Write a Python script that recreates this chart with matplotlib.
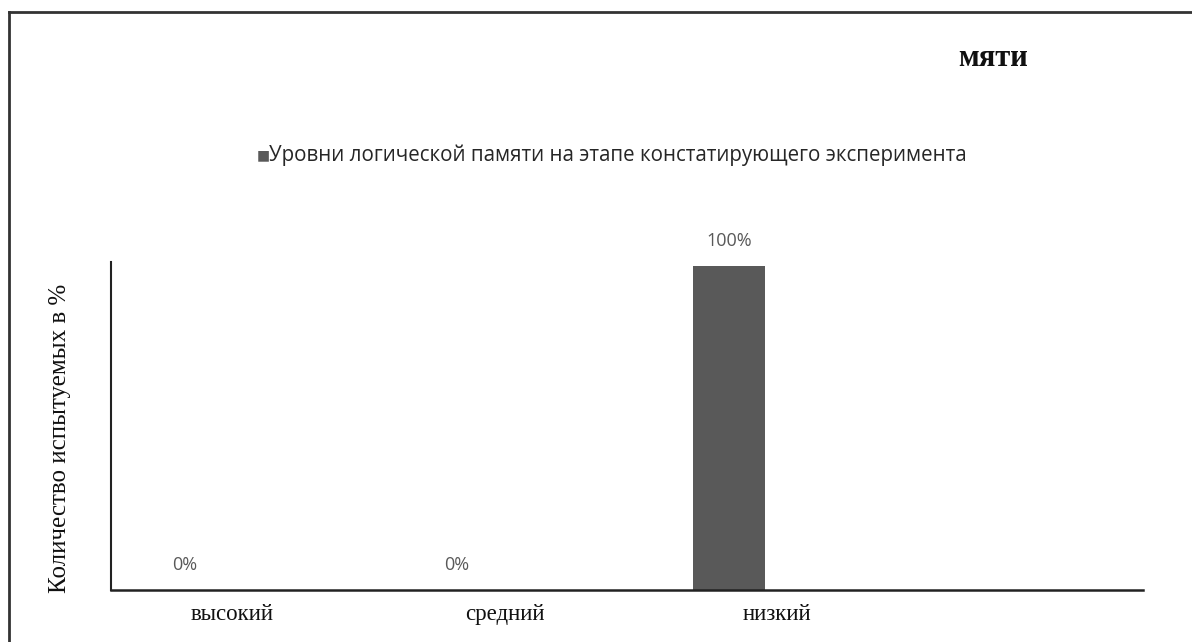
import matplotlib
matplotlib.use("Agg")
import matplotlib.pyplot as plt
import matplotlib.transforms as mtransforms
from matplotlib.lines import Line2D

categories = ["высокий", "средний", "низкий"]
values = [0, 0, 100]
value_labels = ["0%", "0%", "100%"]
legend_label = "Уровни логической памяти на этапе констатирующего эксперимента"
title_text = "мяти"
y_label = "Количество испытуемых в %"

W, H = 1192, 642
fig = plt.figure(figsize=(W / 100, H / 100), dpi=100)
fig.patch.set_facecolor("white")

# outer frame (top and left edges visible)
fig.add_artist(Line2D([9 / W, 1.0], [1 - 12 / H, 1 - 12 / H], color="#333333", lw=2.0, transform=fig.transFigure))
fig.add_artist(Line2D([9 / W, 9 / W], [0, 1 - 12 / H], color="#333333", lw=2.0, transform=fig.transFigure))

left, right, bottom, top = 111, 1143, 590, 262
ax = fig.add_axes([left / W, 1 - bottom / H, (right - left) / W, (bottom - top) / H])

x = list(range(len(categories)))
bar_color = "#595959"
ax.bar(x, values, width=0.262, color=bar_color, zorder=2)
ax.set_xlim(-0.27, 3.52)
ax.set_ylim(0, 101.2)

for xi, v, lab in zip(x, values, value_labels):
    ax.annotate(lab, (xi, v), xytext=(0, 11.5), textcoords="offset points",
                ha="center", va="bottom", fontsize=13, color="#595959",
                family=["Open Sans", "DejaVu Sans"])

for s in ["top", "right"]:
    ax.spines[s].set_visible(False)
ax.spines["left"].set_color("#222222")
ax.spines["left"].set_linewidth(1.5)
ax.spines["bottom"].set_color("#222222")
ax.spines["bottom"].set_linewidth(1.8)
ax.set_yticks([])
ax.set_xticks(x)
ax.set_xticklabels(categories, family=["Liberation Serif"], fontsize=16.5, color="#111111")
ax.tick_params(axis="x", length=0, pad=10)
offset = mtransforms.ScaledTranslation(0.48, 0, fig.dpi_scale_trans)
for lbl in ax.get_xticklabels():
    lbl.set_transform(lbl.get_transform() + offset)

fig.text(60 / W, 1 - 438 / H, y_label, rotation=90, ha="center", va="center",
         family=["Liberation Serif"], fontsize=18, color="#111111")

fig.text(993 / W, 1 - 58 / H, title_text, ha="center", va="center",
         family=["Liberation Serif"], fontsize=22, fontweight="bold", color="#111111")

# legend
fig.text(257 / W, 1 - 155 / H, "■", ha="left", va="center", fontsize=10, color=bar_color,
         family=["DejaVu Sans"])
fig.text(269 / W, 1 - 155 / H, legend_label, ha="left", va="center", fontsize=14.8,
         color="#262626", family=["Open Sans", "DejaVu Sans"])

fig.savefig("out.png", dpi=100, facecolor="white")
